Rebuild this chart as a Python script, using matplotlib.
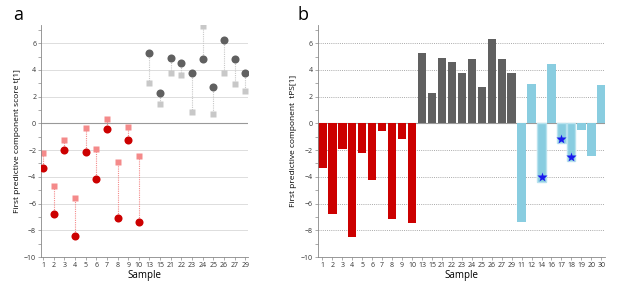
import matplotlib
matplotlib.use("Agg")
import matplotlib.pyplot as plt
import numpy as np

plt.rcParams['font.family'] = ['Open Sans', 'DejaVu Sans']

# panel a: samples, score t[1] (circles) and cross-validated score (squares)
samples_a = ['1', '2', '3', '4', '5', '6', '7', '8', '9', '10',
             '13', '15', '21', '22', '23', '24', '25', '26', '27', '29']
t1 = [-3.35, -6.75, -2.0, -8.45, -2.15, -4.15, -0.4, -7.1, -1.25, -7.35,
      5.25, 2.3, 4.9, 4.55, 3.75, 4.78, 2.7, 6.22, 4.83, 3.75]
t1_cv = [-2.25, -4.68, -1.27, -5.6, -0.38, -1.93, 0.3, -2.9, -0.25, -2.45,
         3.05, 1.47, 3.8, 3.65, 0.82, 7.25, 0.68, 3.8, 2.92, 2.45]
group_a = ['red'] * 10 + ['gray'] * 10

# panel b: samples and tPS[1]
samples_b = samples_a + ['11', '12', '14', '16', '17', '18', '19', '20', '30']
tps = [-3.32, -6.8, -1.9, -8.47, -2.22, -4.2, -0.57, -7.18, -1.2, -7.42,
       5.26, 2.27, 4.86, 4.59, 3.73, 4.81, 2.69, 6.34, 4.81, 3.78,
       -7.35, 2.96, -4.37, 4.47, -1.46, -2.79, -0.47, -2.45, 2.84]
group_b = ['red'] * 10 + ['gray'] * 10 + ['blue'] * 9
star_samples = ['14', '17', '18']
star_values = [-4.0, -1.15, -2.5]

dark = {'red': '#cc0000', 'gray': '#606060', 'blue': '#89cde0'}
light = {'red': '#f48a8a', 'gray': '#c8c8c8'}

fig = plt.figure(figsize=(6.17, 2.85), dpi=100)
ax1 = fig.add_axes([0.0665, 0.098, 0.336, 0.814])
ax2 = fig.add_axes([0.515, 0.098, 0.466, 0.814])


def style_axis(ax, grid_style, grid_color):
    for s in ['top', 'right']:
        ax.spines[s].set_visible(False)
    for s in ['left', 'bottom']:
        ax.spines[s].set_color('#888888')
        ax.spines[s].set_linewidth(0.6)
    ax.set_ylim(-10, 7.35)
    ax.set_yticks(np.arange(-10, 7, 2))
    ax.set_yticks(np.arange(-9, 8, 2), minor=True)
    ax.tick_params(axis='both', which='both', labelsize=5, length=2,
                   width=0.5, color='#888888', pad=1.5, labelcolor='#333333')
    for v in [-8, -6, -4, -2, 2, 4, 6]:
        ax.axhline(v, color=grid_color, lw=0.7, ls=grid_style, zorder=0)
    ax.axhline(0, color='#999999', lw=0.8, zorder=0.5)
    ax.set_xlabel('Sample', fontsize=7, labelpad=1)


# ---- panel a
xa = np.arange(len(samples_a))
for i in range(len(samples_a)):
    g = group_a[i]
    ax1.plot([xa[i], xa[i]], [t1[i], t1_cv[i]], ls=(0, (1, 1)), lw=0.8,
             color=light[g], zorder=1)
    ax1.plot(xa[i], t1_cv[i], 's', ms=4.5, color=light[g], mec='none', zorder=2)
    ax1.plot(xa[i], t1[i], 'o', ms=5.8, color=dark[g], mec='none', zorder=3)
style_axis(ax1, '-', '#dddddd')
ax1.set_xlim(-0.2, 19.3)
ax1.set_xticks(xa)
ax1.set_xticklabels(samples_a)
ax1.set_ylabel('First predictive component score t[1]', fontsize=6, labelpad=2)
fig.text(0.022, 0.93, 'a', fontsize=13)

# ---- panel b
xb = np.arange(len(samples_b))
for i in range(len(samples_b)):
    g = group_b[i]
    if samples_b[i] in star_samples:
        ax2.bar(xb[i], tps[i], width=0.82, color=dark[g], edgecolor='#b8e2ee',
                linewidth=1.0, zorder=2)
    else:
        ax2.bar(xb[i], tps[i], width=0.84, color=dark[g], zorder=2)
for s, v in zip(star_samples, star_values):
    ax2.plot(samples_b.index(s), v, '*', ms=7, color='#1a1aee', mec='none', zorder=3)
style_axis(ax2, (0, (1, 1.2)), '#aaaaaa')
ax2.set_xlim(-0.47, 28.4)
ax2.set_xticks(xb)
ax2.set_xticklabels(samples_b)
ax2.set_ylabel('First predictive component  tPS[1]', fontsize=6, labelpad=3)
fig.text(0.482, 0.93, 'b', fontsize=13)

fig.savefig('out.png', dpi=100)
